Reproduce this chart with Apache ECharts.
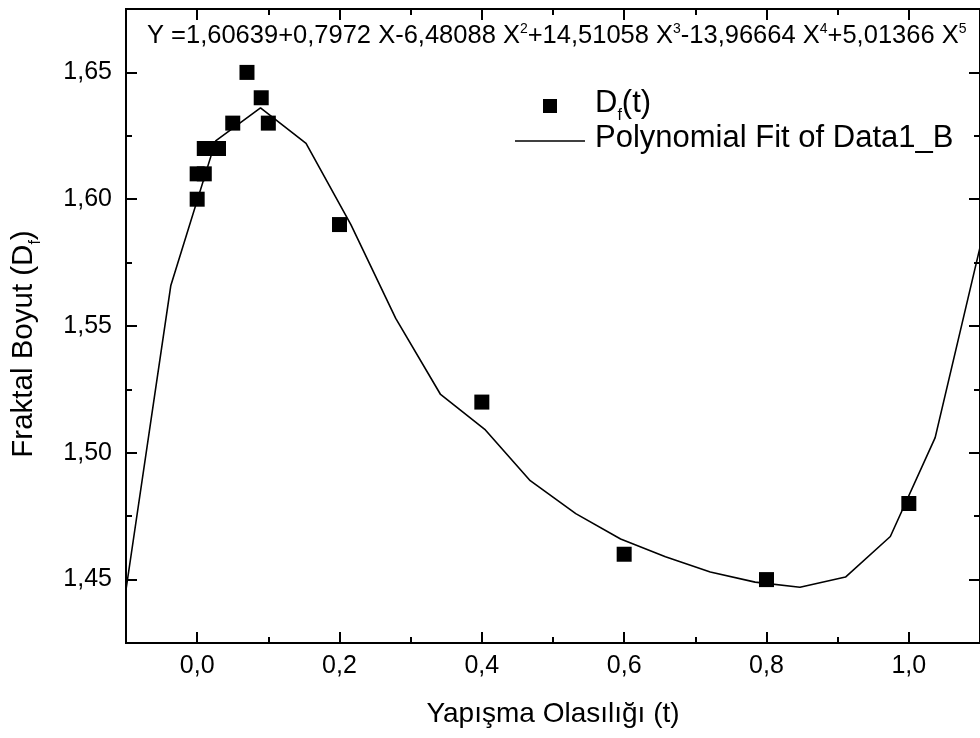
<!DOCTYPE html>
<html>
<head>
<meta charset="utf-8">
<title>Fraktal Boyut</title>
<script src="https://cdn.jsdelivr.net/npm/echarts@6/dist/echarts.min.js"></script>
<style>
  html, body { margin: 0; padding: 0; background: #fff; }
  #chart { width: 980px; height: 738px; }
</style>
</head>
<body>
<div id="chart"></div>
<script>
// measured points D_f(t)
var tValues = [0, 0, 0.01, 0.01, 0.03, 0.05, 0.07, 0.09, 0.1, 0.2, 0.4, 0.6, 0.8, 1.0]
var dfValues = [1.60, 1.61, 1.61, 1.62, 1.62, 1.63, 1.65, 1.64, 1.63, 1.59, 1.52, 1.46, 1.45, 1.48]

// polynomial fit curve, vertices
var fitX = [-0.1, -0.037, 0.026, 0.089, 0.153, 0.216, 0.279, 0.342, 0.405, 0.468,
  0.532, 0.595, 0.658, 0.721, 0.784, 0.847, 0.911, 0.974, 1.037, 1.1]
var fitY = [1.446, 1.566, 1.623, 1.636, 1.622, 1.590, 1.553, 1.523, 1.509, 1.489,
  1.476, 1.466, 1.459, 1.453, 1.449, 1.447, 1.451, 1.467, 1.506, 1.581]

var xMin = -0.1, xMax = 1.1
var yMin = 1.425, yMax = 1.675

var FONT = 'Liberation Sans'
var chart = echarts.init(document.getElementById('chart'))

function zip(a, b) {
  return a.map(function (v, i) { return [v, b[i]] })
}

function xAxisDef(pos, major) {
  var ax = {
    type: 'value',
    position: pos,
    min: xMin,
    max: xMax,
    splitLine: { show: false },
    axisLine: { show: true, onZero: false, lineStyle: { color: '#000', width: 2 } },
    axisTick: { show: true, inside: true, length: major ? 11 : 6, lineStyle: { color: '#000', width: 2 } },
    axisLabel: { show: false }
  }
  if (!major) ax.interval = 0.1
  if (major && pos === 'bottom') {
    ax.axisLabel = {
      show: true, margin: 11, color: '#000', fontSize: 25, fontFamily: FONT,
      showMinLabel: false, showMaxLabel: false,
      formatter: function (v) { return v.toFixed(1).replace('.', ',') }
    }
    ax.name = 'Yapışma Olasılığı (t)'
    ax.nameLocation = 'middle'
    ax.nameGap = 57
    ax.nameTextStyle = { color: '#000', fontSize: 28, fontFamily: FONT }
  }
  return ax
}

function yAxisDef(pos, major) {
  var ax = {
    type: 'value',
    position: pos,
    min: yMin,
    max: yMax,
    splitLine: { show: false },
    axisLine: { show: true, onZero: false, lineStyle: { color: '#000', width: 2 } },
    axisTick: { show: true, inside: true, length: major ? 11 : 6, lineStyle: { color: '#000', width: 2 } },
    axisLabel: { show: false }
  }
  if (!major) ax.interval = 0.025
  if (major && pos === 'left') {
    ax.axisLabel = {
      show: true, margin: 14, color: '#000', fontSize: 25, fontFamily: FONT,
      showMinLabel: false, showMaxLabel: false,
      formatter: function (v) { return v.toFixed(2).replace('.', ',') }
    }
    ax.name = '{a|Fraktal Boyut (D}{s|f}{a|)}'
    ax.nameLocation = 'middle'
    ax.nameRotate = 90
    ax.nameGap = 82
    ax.nameTextStyle = {
      color: '#000',
      padding: [0, 36, 0, 0],
      rich: {
        a: { fontSize: 29.5, fontFamily: FONT, color: '#000', lineHeight: 35, verticalAlign: 'top' },
        s: { fontSize: 16, fontFamily: FONT, color: '#000', verticalAlign: 'bottom' }
      }
    }
  }
  return ax
}

chart.setOption({
  backgroundColor: '#fff',
  animation: false,
  title: {
    left: 142,
    top: 17,
    text: '{a|Y =1,60639+0,7972 X-6,48088 X}{p|2}{a|+14,51058 X}{p|3}{a|-13,96664 X}{p|4}{a|+5,01366 X}{p|5}',
    textStyle: {
      fontWeight: 'normal',
      rich: {
        a: { fontSize: 25.5, fontFamily: FONT, color: '#000', lineHeight: 28, fontWeight: 'normal' },
        p: { fontSize: 14, fontFamily: FONT, color: '#000', lineHeight: 12, verticalAlign: 'top', fontWeight: 'normal' }
      }
    }
  },
  legend: {
    orient: 'vertical',
    left: 510,
    top: 83,
    itemWidth: 70,
    itemHeight: 14,
    itemGap: -1,
    symbolKeepAspect: true,
    data: [
      { name: 'Df(t)', icon: 'path://M0,0 L10,0 L10,10 L0,10 Z' },
      { name: 'Polynomial Fit of Data1_B', icon: 'path://M0,0 L100,0 L100,2 L0,2 Z' }
    ],
    formatter: function (name) {
      return name === 'Df(t)' ? '{b|D}{s|f}{a|(t)}' : '{b|' + name + '}'
    },
    textStyle: {
      color: '#000',
      rich: {
        a: { fontSize: 31, fontFamily: FONT, color: '#000', lineHeight: 36, verticalAlign: 'top' },
        b: { fontSize: 31, fontFamily: FONT, color: '#000', lineHeight: 36, verticalAlign: 'top', padding: [0, 0, 0, 5] },
        s: { fontSize: 16, fontFamily: FONT, color: '#000', verticalAlign: 'bottom' }
      }
    }
  },
  grid: {
    left: 126,
    right: -9,
    top: 9,
    bottom: 95,
    containLabel: false
  },
  xAxis: [xAxisDef('bottom', false), xAxisDef('bottom', true), xAxisDef('top', false), xAxisDef('top', true)],
  yAxis: [yAxisDef('left', false), yAxisDef('left', true), yAxisDef('right', false), yAxisDef('right', true)],
  series: [
    {
      name: 'Polynomial Fit of Data1_B',
      type: 'line',
      data: zip(fitX, fitY),
      symbol: 'none',
      smooth: false,
      lineStyle: { color: '#000', width: 1.6 },
      itemStyle: { color: '#000' },
      z: 2
    },
    {
      name: 'Df(t)',
      type: 'scatter',
      data: zip(tValues, dfValues),
      symbol: 'rect',
      symbolSize: 15,
      itemStyle: { color: '#000', opacity: 1 },
      z: 3
    }
  ]
})
</script>
</body>
</html>
